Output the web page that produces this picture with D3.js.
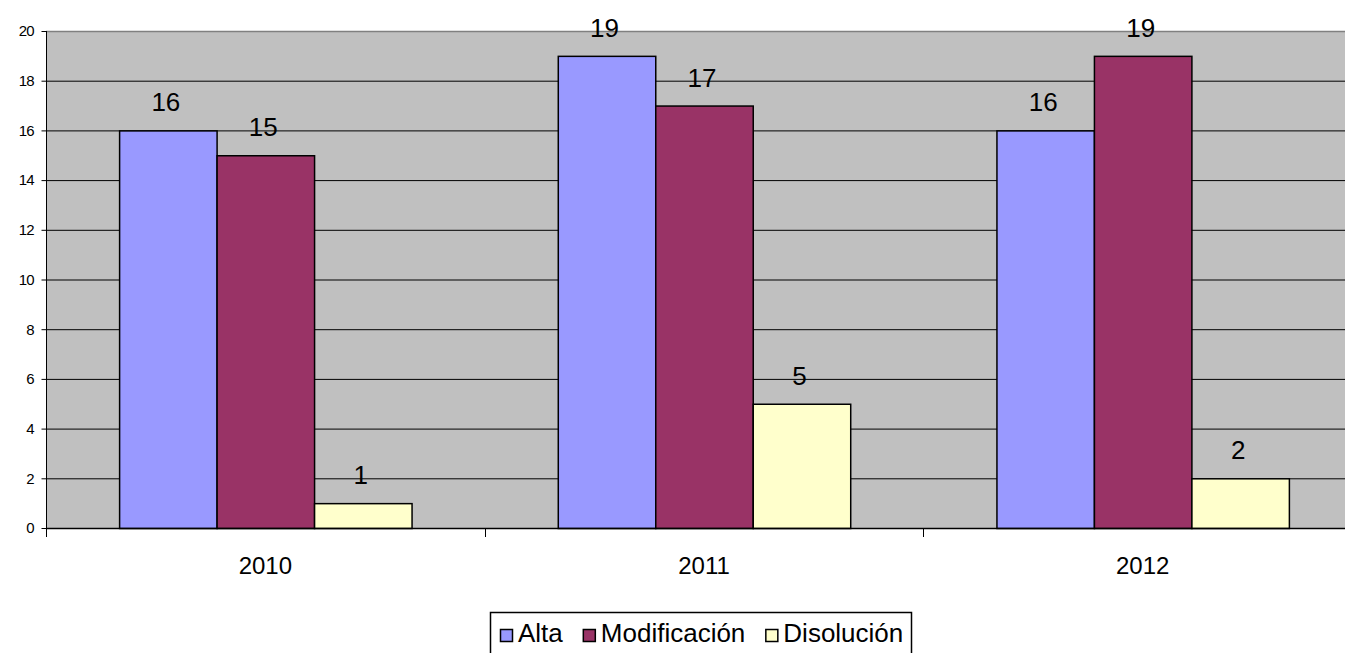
<!DOCTYPE html>
<html>
<head>
<meta charset="utf-8">
<script src="https://cdn.jsdelivr.net/npm/d3@7"></script>
<style>
  html, body { margin: 0; padding: 0; background: #fff; overflow: hidden; }
  svg { display: block; font-family: "Liberation Sans", Arial, sans-serif; }
</style>
</head>
<body>
<svg id="chart" width="1345" height="653"></svg>
<script>
// Trámites registrados por año
const years = ["2010", "2011", "2012"];
const seriesNames = ["Alta", "Modificación", "Disolución"];
const alta = [16, 19, 16];
const modificacion = [15, 17, 19];
const disolucion = [1, 5, 2];
const yTicks = [0, 2, 4, 6, 8, 10, 12, 14, 16, 18, 20];
const colors = ["#9999FF", "#993366", "#FFFFCC"];

const seriesValues = [alta, modificacion, disolucion];

const svg = d3.select("#chart");
const plot = { left: 46, top: 31, right: 1362, bottom: 528 };

const x0 = d3.scaleBand().domain(years).range([plot.left, plot.right]).paddingInner(0).paddingOuter(0);
const y = d3.scaleLinear().domain([0, 20]).range([plot.bottom, plot.top]);

// Bar width: three bars per group plus a gap of 1.5 bar widths
const barW = x0.bandwidth() / 4.5;
const x1 = d3.scaleBand().domain(seriesNames).range([0, barW * 3]).padding(0);

// Plot background
svg.append("rect")
  .attr("x", plot.left).attr("y", plot.top)
  .attr("width", plot.right - plot.left).attr("height", plot.bottom - plot.top)
  .attr("fill", "#C0C0C0");

// Grid lines
svg.append("g").selectAll("line")
  .data(yTicks.filter(t => t > 0 && t < 20))
  .join("line")
  .attr("x1", plot.left).attr("x2", plot.right)
  .attr("y1", d => y(d) + 0.5).attr("y2", d => y(d) + 0.5)
  .attr("stroke", "#000").attr("stroke-width", 1);

svg.append("line")
  .attr("x1", plot.left).attr("x2", plot.right)
  .attr("y1", y(20) + 0.5).attr("y2", y(20) + 0.5)
  .attr("stroke", "#808080").attr("stroke-width", 1.5);

// Bars
const groups = svg.append("g").selectAll("g")
  .data(years)
  .join("g")
  .attr("transform", d => `translate(${x0(d) + barW * 0.75},0)`);

const cells = (d, i) => seriesNames.map((s, k) => ({ s, k, v: seriesValues[k][i] }));

groups.selectAll("rect")
  .data(cells)
  .join("rect")
  .attr("x", d => x1(d.s) + 0.5)
  .attr("y", d => y(d.v) + 0.5)
  .attr("width", x1.bandwidth())
  .attr("height", d => y(0) - y(d.v))
  .attr("fill", d => colors[d.k])
  .attr("stroke", "#000")
  .attr("stroke-width", 1.5);

// Value labels
groups.selectAll("text")
  .data(cells)
  .join("text")
  .attr("x", d => x1(d.s) + x1.bandwidth() / 2 - 2)
  .attr("y", d => y(d.v) - 19)
  .attr("text-anchor", "middle")
  .attr("font-size", 26)
  .attr("fill", "#000")
  .text(d => d.v);

// Y axis
const yAxis = svg.append("g")
  .attr("transform", `translate(${plot.left + 0.5},0)`)
  .call(d3.axisLeft(y).tickValues(yTicks).tickSize(5).tickPadding(8).tickFormat(d3.format("d")));
yAxis.select(".domain").attr("d", `M0,${plot.top}V${plot.bottom}`).attr("stroke", "#000");
yAxis.selectAll(".tick line").attr("stroke", "#000");
yAxis.selectAll(".tick text")
  .attr("font-size", 15)
  .attr("letter-spacing", "-1")
  .attr("font-family", "Liberation Sans, Arial, sans-serif")
  .attr("fill", "#000");

// X axis
svg.append("line")
  .attr("x1", plot.left).attr("x2", plot.right)
  .attr("y1", plot.bottom + 0.5).attr("y2", plot.bottom + 0.5)
  .attr("stroke", "#000").attr("stroke-width", 1.5);

const boundaries = years.map(d => x0(d)).concat([plot.right]);
svg.append("g").selectAll("line")
  .data(boundaries)
  .join("line")
  .attr("x1", d => Math.round(d) + 0.5).attr("x2", d => Math.round(d) + 0.5)
  .attr("y1", plot.bottom).attr("y2", plot.bottom + 9)
  .attr("stroke", "#000");

svg.append("g").selectAll("text")
  .data(years)
  .join("text")
  .attr("x", d => x0(d) + x0.bandwidth() / 2)
  .attr("y", 574)
  .attr("text-anchor", "middle")
  .attr("font-size", 24)
  .attr("fill", "#000")
  .text(d => d);

// Legend
const legend = svg.append("g");
legend.append("rect")
  .attr("x", 490.5).attr("y", 612.5)
  .attr("width", 421).attr("height", 50)
  .attr("fill", "#fff").attr("stroke", "#000").attr("stroke-width", 1.5);

let lx = 500;
seriesNames.forEach((name, k) => {
  legend.append("rect")
    .attr("x", lx + 0.5).attr("y", 629.5)
    .attr("width", 12).attr("height", 12)
    .attr("fill", colors[k]).attr("stroke", "#000").attr("stroke-width", 1.5);
  const t = legend.append("text")
    .attr("x", lx + 18).attr("y", 642)
    .attr("font-size", 26)
    .attr("fill", "#000")
    .text(name);
  lx += 18 + t.node().getComputedTextLength() + 20;
});
</script>
</body>
</html>
